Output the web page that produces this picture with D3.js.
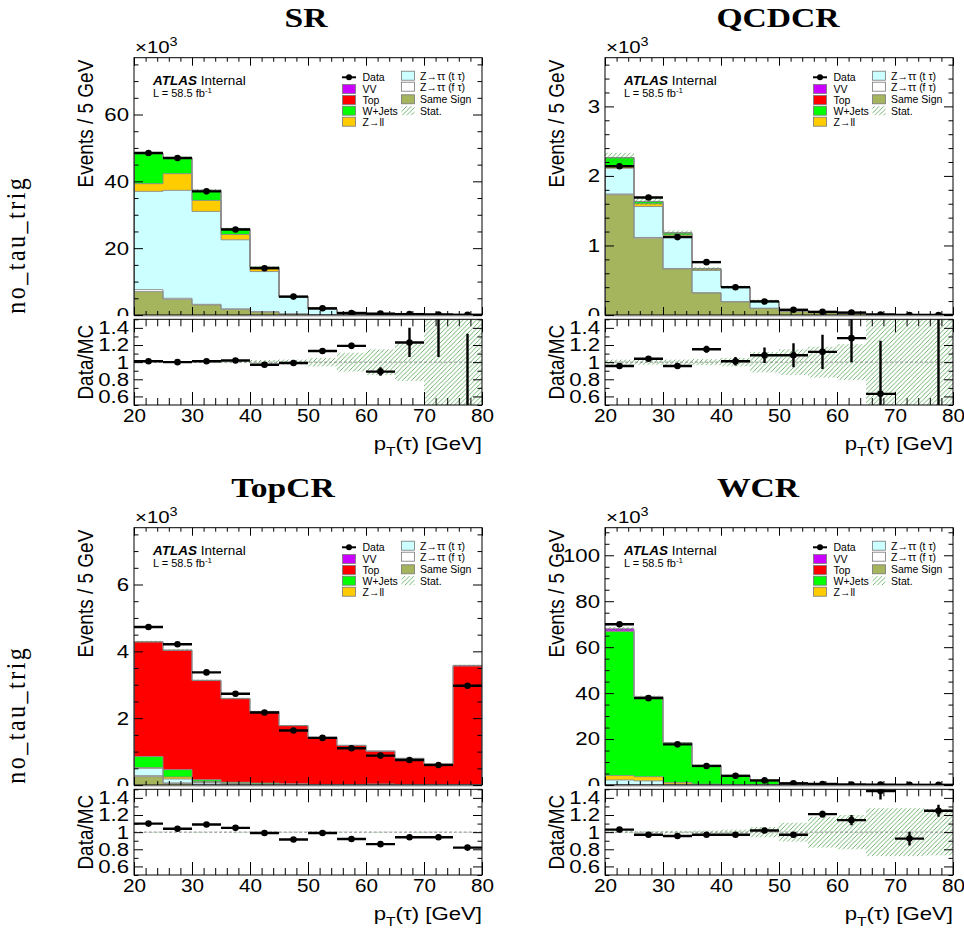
<!DOCTYPE html>
<html><head><meta charset="utf-8">
<script src="https://cdn.jsdelivr.net/npm/d3@7/dist/d3.min.js"></script>
<style>
body{margin:0;background:#fff}
</style>
</head><body>
<svg id="c" width="964" height="941" style="font-family:'Liberation Sans',Arial,Helvetica,sans-serif"></svg>
<script>
// ---------------- DATA ----------------
const binEdges = [20,25,30,35,40,45,50,55,60,65,70,75,80];
const xTickValues = [20,30,40,50,60,70,80];
const xTickLabels = ["20","30","40","50","60","70","80"];
const ratioTickValues = [0.6,0.8,1.0,1.2,1.4];
const ratioTickLabels = ["0.6","0.8","1","1.2","1.4"];
const regionNames = ["SR","QCDCR","TopCR","WCR"];
const rowLabels = ["no_tau_trig","no_tau_trig"];
const processKeys = ["ss","zttF","zttT","zll","wjets","top","vv"];
const processNames = {ss:"Same Sign",zttF:"Z\u2192\u03c4\u03c4 (f \u03c4)",zttT:"Z\u2192\u03c4\u03c4 (t \u03c4)",zll:"Z\u2192ll",wjets:"W+Jets",top:"Top",vv:"VV"};
const processColors = {ss:"#a4b55e",zttF:"#ffffff",zttT:"#ccffff",zll:"#ffcc00",wjets:"#00ff00",top:"#ff0000",vv:"#cc00ff"};

// y-axis ranges (x10^3 events)
const yMax   = [77, 3.7, 7.7, 112];
const yMajor = [20, 1, 2, 20];
const yMinor = [5, 0.2, 0.5, 5];

// SR
const SR_data   = [48.5,47.0,37.0,25.6,14.0,5.5,2.0,0.6,0.4,0.25,0.17,0.06];
const SR_ss     = [7.0,4.7,3.0,1.7,0.9,0.3,0.1,0.05,0.03,0.02,0.01,0.01];
const SR_zttF   = [0.6,0.3,0.2,0.15,0.1,0.05,0.02,0.01,0.0,0.0,0.0,0.0];
const SR_zttT   = [29.4,32.3,27.8,20.65,12.0,4.95,1.6,0.42,0.38,0.17,0.09,0.07];
const SR_zll    = [2.3,5.0,3.3,1.6,1.0,0.2,0.05,0.02,0.02,0.01,0.005,0.005];
const SR_wjets  = [9.0,4.7,3.0,1.7,0.3,0.05,0.02,0.01,0.01,0.0,0.0,0.0];
const SR_top    = [0.02,0.02,0.01,0.01,0.01,0.0,0.0,0.0,0.0,0.0,0.0,0.0];
const SR_vv     = [0.02,0.02,0.01,0.01,0.01,0.0,0.0,0.0,0.0,0.0,0.0,0.0];
const SR_ratio    = [1.01,1.0,1.01,1.02,0.97,0.99,1.13,1.19,0.89,1.23,1.7,0.45];
const SR_ratioErr = [0.006,0.006,0.007,0.008,0.01,0.015,0.025,0.035,0.05,0.17,0.64,0.88];
const SR_band     = [0.008,0.008,0.01,0.012,0.025,0.03,0.05,0.11,0.15,0.22,0.8,0.8];

// QCDCR
const QCD_data  = [2.14,1.69,1.12,0.76,0.40,0.195,0.075,0.045,0.035,0.006,0.001,0.001];
const QCD_ss    = [1.73,1.105,0.663,0.317,0.19,0.096,0.05,0.035,0.025,0.008,0.004,0.002];
const QCD_zttF  = [0.01,0.01,0.005,0.003,0.002,0.001,0.0,0.0,0.0,0.0,0.0,0.0];
const QCD_zttT  = [0.37,0.445,0.467,0.32,0.205,0.098,0.018,0.008,0.004,0.002,0.001,0.001];
const QCD_zll   = [0.02,0.04,0.015,0.02,0.003,0.002,0.001,0.001,0.001,0.0,0.0,0.0];
const QCD_wjets = [0.13,0.03,0.03,0.005,0.002,0.001,0.001,0.001,0.001,0.0,0.0,0.0];
const QCD_top   = [0.003,0.002,0.001,0.001,0.0,0.0,0.0,0.0,0.0,0.0,0.0,0.0];
const QCD_vv    = [0.001,0.001,0.0,0.0,0.0,0.0,0.0,0.0,0.0,0.0,0.0,0.0];
const QCD_ratio    = [0.955,1.04,0.955,1.15,1.01,1.08,1.08,1.12,1.28,0.63,null,1.9];
const QCD_ratioErr = [0.02,0.025,0.03,0.04,0.05,0.09,0.14,0.2,0.28,0.62,0,1.5];
const QCD_band     = [0.03,0.03,0.03,0.035,0.05,0.12,0.15,0.18,0.21,0.8,0.8,0.8];

// TopCR
const TOP_data  = [4.73,4.21,3.37,2.73,2.17,1.63,1.41,1.10,0.88,0.75,0.60,2.97];
const TOP_ss    = [0.25,0.05,0.02,0.01,0.01,0.005,0.0,0.0,0.0,0.0,0.0,0.0];
const TOP_zttF  = [0.03,0.01,0.005,0.002,0.002,0.0,0.0,0.0,0.0,0.0,0.0,0.0];
const TOP_zttT  = [0.22,0.12,0.05,0.02,0.01,0.005,0.0,0.0,0.0,0.0,0.0,0.0];
const TOP_zll   = [0.02,0.06,0.03,0.01,0.005,0.005,0.0,0.0,0.0,0.0,0.0,0.0];
const TOP_wjets = [0.33,0.22,0.05,0.04,0.03,0.02,0.01,0.01,0.03,0.01,0.01,0.01];
const TOP_top   = [3.43,3.57,2.97,2.50,2.14,1.74,1.41,1.17,0.98,0.78,0.61,3.55];
const TOP_vv    = [0.01,0.01,0.01,0.01,0.005,0.005,0.01,0.01,0.01,0.01,0.01,0.02];
const TOP_ratio    = [1.10,1.04,1.09,1.05,0.99,0.915,0.99,0.92,0.86,0.94,0.94,0.82];
const TOP_ratioErr = [0.01,0.01,0.012,0.013,0.015,0.017,0.02,0.02,0.025,0.03,0.03,0.015];
const TOP_band     = [0.006,0.006,0.006,0.006,0.006,0.006,0.006,0.006,0.006,0.006,0.006,0.005];

// WCR
const W_data  = [70.0,37.8,17.7,8.3,4.0,2.0,0.73,0.45,0.23,0.15,0.075,0.065];
const W_ss    = [0.1,0.05,0.02,0.01,0.01,0.0,0.0,0.0,0.0,0.0,0.0,0.0];
const W_zttF  = [0.1,0.05,0.02,0.01,0.0,0.0,0.0,0.0,0.0,0.0,0.0,0.0];
const W_zttT  = [2.0,1.7,0.3,0.15,0.08,0.04,0.02,0.01,0.01,0.0,0.0,0.0];
const W_zll   = [1.9,1.8,0.7,0.2,0.05,0.03,0.01,0.005,0.0,0.0,0.0,0.0];
const W_wjets = [62.7,34.5,17.2,8.1,3.9,1.8,0.7,0.35,0.17,0.1,0.08,0.05];
const W_top   = [0.2,0.1,0.05,0.03,0.02,0.01,0.005,0.0,0.0,0.0,0.0,0.0];
const W_vv    = [1.0,0.3,0.15,0.05,0.03,0.02,0.01,0.005,0.0,0.0,0.0,0.0];
const W_ratio    = [1.03,0.97,0.955,0.97,0.97,1.02,0.97,1.21,1.14,1.48,0.925,1.25];
const W_ratioErr = [0.005,0.006,0.008,0.012,0.015,0.02,0.03,0.04,0.06,0.1,0.08,0.07];
const W_band     = [0.012,0.012,0.015,0.02,0.03,0.06,0.11,0.18,0.2,0.28,0.28,0.27];

const regions = [
  {data:SR_data, comps:{ss:SR_ss,zttF:SR_zttF,zttT:SR_zttT,zll:SR_zll,wjets:SR_wjets,top:SR_top,vv:SR_vv}, ratio:SR_ratio, ratioErr:SR_ratioErr, band:SR_band},
  {data:QCD_data, comps:{ss:QCD_ss,zttF:QCD_zttF,zttT:QCD_zttT,zll:QCD_zll,wjets:QCD_wjets,top:QCD_top,vv:QCD_vv}, ratio:QCD_ratio, ratioErr:QCD_ratioErr, band:QCD_band},
  {data:TOP_data, comps:{ss:TOP_ss,zttF:TOP_zttF,zttT:TOP_zttT,zll:TOP_zll,wjets:TOP_wjets,top:TOP_top,vv:TOP_vv}, ratio:TOP_ratio, ratioErr:TOP_ratioErr, band:TOP_band},
  {data:W_data, comps:{ss:W_ss,zttF:W_zttF,zttT:W_zttT,zll:W_zll,wjets:W_wjets,top:W_top,vv:W_vv}, ratio:W_ratio, ratioErr:W_ratioErr, band:W_band}
];

// ---------------- LAYOUT ----------------
const colLeft = [134, 605];
const rowTop = [57.7, 527.7];
const frameW = 348, mainH = 257.3, ratioGap = 4.3, ratioH = 85.7;
const titleX = [306, 778, 283, 758];
const titleDY = -31;
const SX = 1.2;       // horizontal text stretch
const FS = 18.5;      // label font size
const SERIF = "'Liberation Serif','Times New Roman',serif";

const svg = d3.select("#c");
const defs = svg.append("defs");
const pat = defs.append("pattern").attr("id","hatch").attr("patternUnits","userSpaceOnUse")
  .attr("width",4.5).attr("height",4.5);
pat.append("path").attr("d","M-1,1 L1,-1 M0,4.5 L4.5,0 M3.5,5.5 L5.5,3.5")
  .attr("fill","none").attr("stroke","#3f9a3f").attr("stroke-width",0.75);

function stretchText(sel, sx){
  sel.each(function(){
    const x = +(this.getAttribute("x")||0), y = +(this.getAttribute("y")||0);
    this.setAttribute("x",0); this.setAttribute("y",0);
    this.setAttribute("transform",`translate(${x},${y}) scale(${sx},1)`);
  });
}
function ticks(g, axisGen, scale, vals, size, tx, ty, fmt, pad){
  const a = axisGen(scale).tickValues(vals).tickSize(size).tickPadding(pad||4).tickFormat(fmt || (()=>""));
  const gg = g.append("g").attr("transform",`translate(${tx},${ty})`).call(a);
  gg.attr("font-family",null).attr("font-size",null);
  gg.select(".domain").remove();
  gg.selectAll("line").attr("stroke","#000").attr("stroke-width",1);
  gg.selectAll("text").style("font-size",FS+"px").style("font-family","'Liberation Sans',Arial,sans-serif").attr("fill","#000");
  return gg;
}
function minorVals(lo, hi, step, majors){
  const out=[]; for(let v=lo; v<=hi+1e-9; v+=step){ const r=Math.round(v*1000)/1000; if(!majors.some(m=>Math.abs(m-r)<1e-6)) out.push(r);} return out;
}

regions.forEach((R, idx) => {
  const col = idx % 2, row = Math.floor(idx/2);
  const fl = colLeft[col], ft = rowTop[row];
  const fr = fl + frameW, fb = ft + mainH;
  const rt = fb + ratioGap, rb = rt + ratioH;
  const g = svg.append("g");

  const x = d3.scaleLinear().domain([binEdges[0], binEdges[binEdges.length-1]]).range([fl, fr]);
  const y = d3.scaleLinear().domain([0, yMax[idx]]).range([fb, ft]);
  const yr = d3.scaleLinear().domain([0.5, 1.5]).range([rb, rt]);

  // title
  g.append("text").attr("x",titleX[idx]).attr("y",ft+titleDY).attr("text-anchor","middle")
    .style("font-family",SERIF).style("font-weight","bold")
    .style("font-size","28px").text(regionNames[idx]).call(stretchText, SX);

  // clip
  const cid = "clipM"+idx, rid = "clipR"+idx;
  defs.append("clipPath").attr("id",cid).append("rect").attr("x",fl).attr("y",ft).attr("width",frameW).attr("height",mainH);
  defs.append("clipPath").attr("id",rid).append("rect").attr("x",fl).attr("y",rt).attr("width",frameW).attr("height",ratioH);
  // label clip in the local (translated) coordinates of the left-axis group
  defs.append("clipPath").attr("id","clipL"+idx).append("rect").attr("x",-60).attr("y",ft-20).attr("width",72).attr("height",mainH+21);

  // stack
  const table = binEdges.slice(0,-1).map((lo,i)=>{ const o={lo:lo, hi:binEdges[i+1]}; processKeys.forEach(k=>o[k]=R.comps[k][i]); return o; });
  const series = d3.stack().keys(processKeys)(table);
  const mg = g.append("g").attr("clip-path",`url(#${cid})`);
  const area = d3.area().x(d=>x(d.x)).y0(d=>y(d.y0)).y1(d=>y(d.y1)).curve(d3.curveStepAfter);
  const line = d3.line().x(d=>x(d.x)).y(d=>y(d.y)).curve(d3.curveStepAfter);
  series.forEach(s=>{
    const pts = s.map(d=>({x:d.data.lo, y0:d[0], y1:d[1]}));
    pts.push({x:d3.max(binEdges), y0:s[s.length-1][0], y1:s[s.length-1][1]});
    mg.append("path").attr("d",area(pts)).attr("fill",processColors[s.key]);
  });
  series.forEach(s=>{
    const pts = [{x:binEdges[0], y:0}].concat(s.map(d=>({x:d.data.lo, y:d[1]})));
    pts.push({x:d3.max(binEdges), y:s[s.length-1][1]});
    pts.push({x:d3.max(binEdges), y:0});
    mg.append("path").attr("d",line(pts)).attr("fill","none").attr("stroke","#8a8a8a").attr("stroke-width",0.9);
  });
  // stat band on main
  const totals = table.map(d=>processKeys.reduce((a,k)=>a+d[k],0));
  mg.selectAll("rect.band").data(table).join("rect")
    .attr("x",d=>x(d.lo)).attr("width",d=>x(d.hi)-x(d.lo))
    .attr("y",(d,i)=>y(totals[i]*(1+R.band[i]))).attr("height",(d,i)=>Math.max(0.5,y(totals[i]*(1-R.band[i]))-y(totals[i]*(1+R.band[i]))))
    .attr("fill","url(#hatch)");
  // data
  mg.selectAll("line.dx").data(table).join("line")
    .attr("x1",d=>x(d.lo)).attr("x2",d=>x(d.hi)).attr("y1",(d,i)=>y(R.data[i])).attr("y2",(d,i)=>y(R.data[i]))
    .attr("stroke","#000").attr("stroke-width",2.4);
  mg.selectAll("circle.dp").data(table).join("circle")
    .attr("cx",d=>x((d.lo+d.hi)/2)).attr("cy",(d,i)=>y(R.data[i])).attr("r",3.3).attr("fill","#000");

  // main frame & ticks
  const yMaj = d3.range(0, yMax[idx]+1e-9, yMajor[idx]).map(v=>Math.round(v*1000)/1000);
  const yMin = minorVals(0, yMax[idx], yMinor[idx], yMaj);
  const xMin = minorVals(20, 80, 2, xTickValues);
  const yl = ticks(g, d3.axisLeft, y, yMaj, -9, fl, 0, d3.format("~g"), 5);
  yl.attr("clip-path",`url(#clipL${idx})`);
  stretchText(yl.selectAll("text"), SX);
  ticks(g, d3.axisLeft, y, yMin, -4.5, fl, 0);
  ticks(g, d3.axisRight, y, yMaj, -9, fr, 0);
  ticks(g, d3.axisRight, y, yMin, -4.5, fr, 0);
  ticks(g, d3.axisTop, x, xTickValues, -8, 0, ft);
  ticks(g, d3.axisTop, x, xMin, -4, 0, ft);
  ticks(g, d3.axisBottom, x, xTickValues, -8, 0, fb);
  ticks(g, d3.axisBottom, x, xMin, -4, 0, fb);
  g.append("rect").attr("x",fl).attr("y",ft).attr("width",frameW).attr("height",mainH).attr("fill","none").attr("stroke","#000").attr("stroke-width",1);

  // x10^3
  const t3 = g.append("text").attr("x",fl+1).attr("y",ft-5).style("font-size","17px");
  t3.append("tspan").text("\u00d710");
  t3.append("tspan").style("font-size","12px").attr("dy",-7).text("3");
  stretchText(t3, SX);

  // y title
  g.append("text").attr("transform",`translate(${fl-41},${ft+2}) scale(${SX},1) rotate(-90)`)
    .attr("text-anchor","end").style("font-size","19px").text("Events / 5 GeV");

  // ATLAS label
  const at = g.append("text").attr("x",fl+19).attr("y",ft+27.5).style("font-size","13.5px");
  at.append("tspan").style("font-weight","bold").style("font-style","italic").text("ATLAS");
  at.append("tspan").text(" Internal");
  const lum = g.append("text").attr("x",fl+19).attr("y",ft+39.6).style("font-size","11px");
  lum.append("tspan").text("L = 58.5 fb");
  lum.append("tspan").style("font-size","8px").attr("dy",-4).text("-1");

  // legend
  const leg1 = ["data","vv","top","wjets","zll"];
  const leg1Y = [19.6,31.3,42.3,53,64];
  const leg2 = ["zttT","zttF","ss","stat"];
  const leg2Y = [18,29,41.6,53];
  const LFS = "10.5px";
  leg1.forEach((k,i)=>{
    const cy = ft+leg1Y[i];
    if(k==="data"){
      g.append("line").attr("x1",fl+208).attr("x2",fl+222).attr("y1",cy).attr("y2",cy).attr("stroke","#000").attr("stroke-width",2);
      g.append("circle").attr("cx",fl+215).attr("cy",cy).attr("r",3).attr("fill","#000");
    } else {
      g.append("rect").attr("x",fl+208.5).attr("y",cy-4.5).attr("width",13).attr("height",9).attr("fill",processColors[k]).attr("stroke","#777").attr("stroke-width",0.8);
    }
    g.append("text").attr("x",fl+228.5).attr("y",cy+3.8).style("font-size",LFS).text(k==="data"?"Data":processNames[k]);
  });
  leg2.forEach((k,i)=>{
    const cy = ft+leg2Y[i];
    if(k==="stat"){
      g.append("rect").attr("x",fl+267.5).attr("y",cy-4.5).attr("width",13).attr("height",9).attr("fill","url(#hatch)");
    } else {
      g.append("rect").attr("x",fl+267.5).attr("y",cy-4.5).attr("width",13).attr("height",9).attr("fill",processColors[k]).attr("stroke","#777").attr("stroke-width",0.8);
    }
    g.append("text").attr("x",fl+286).attr("y",cy+3.8).style("font-size",LFS).text(k==="stat"?"Stat.":processNames[k]);
  });

  // ---------- ratio pad ----------
  g.append("line").attr("x1",fl).attr("x2",fr).attr("y1",fb+1.6).attr("y2",fb+1.6).attr("stroke","#cfcfcf").attr("stroke-width",1);
  const rg = g.append("g").attr("clip-path",`url(#${rid})`);
  rg.selectAll("rect").data(table).join("rect")
    .attr("x",d=>x(d.lo)).attr("width",d=>x(d.hi)-x(d.lo))
    .attr("y",(d,i)=>yr(1+R.band[i])).attr("height",(d,i)=>yr(1-R.band[i])-yr(1+R.band[i]))
    .attr("fill","url(#hatch)");
  rg.append("line").attr("x1",fl).attr("x2",fr).attr("y1",yr(1)).attr("y2",yr(1))
    .attr("stroke","#777").attr("stroke-width",0.8).attr("stroke-dasharray","3,2");
  const rdat = table.map((d,i)=>({lo:d.lo, hi:d.hi, r:R.ratio[i], e:R.ratioErr[i]})).filter(d=>d.r!==null);
  rg.selectAll("line.rh").data(rdat).join("line").attr("class","rh")
    .attr("x1",d=>x(d.lo)).attr("x2",d=>x(d.hi)).attr("y1",d=>yr(d.r)).attr("y2",d=>yr(d.r))
    .attr("stroke","#000").attr("stroke-width",2.4);
  rg.selectAll("line.rv").data(rdat).join("line").attr("class","rv")
    .attr("x1",d=>x((d.lo+d.hi)/2)).attr("x2",d=>x((d.lo+d.hi)/2)).attr("y1",d=>yr(d.r-d.e)).attr("y2",d=>yr(d.r+d.e))
    .attr("stroke","#000").attr("stroke-width",2.4);
  rg.selectAll("circle").data(rdat).join("circle")
    .attr("cx",d=>x((d.lo+d.hi)/2)).attr("cy",d=>yr(d.r)).attr("r",3.3).attr("fill","#000");

  const rMin = [0.5,0.7,0.9,1.1,1.3,1.5];
  const ryl = ticks(g, d3.axisLeft, yr, ratioTickValues, -9, fl, 0, (v,i)=>ratioTickLabels[i], 5);
  stretchText(ryl.selectAll("text"), SX);
  ticks(g, d3.axisLeft, yr, rMin, -4.5, fl, 0);
  ticks(g, d3.axisRight, yr, ratioTickValues, -9, fr, 0);
  ticks(g, d3.axisRight, yr, rMin, -4.5, fr, 0);
  ticks(g, d3.axisTop, x, xTickValues, -13, 0, rt);
  ticks(g, d3.axisTop, x, xMin, -7, 0, rt);
  const xl = ticks(g, d3.axisBottom, x, xTickValues, -13, 0, rb, (v,i)=>xTickLabels[i], 4);
  xl.selectAll("text").style("font-size","18px");
  stretchText(xl.selectAll("text"), 1.15);
  ticks(g, d3.axisBottom, x, xMin, -7, 0, rb);
  g.append("rect").attr("x",fl).attr("y",rt).attr("width",frameW).attr("height",ratioH).attr("fill","none").attr("stroke","#000").attr("stroke-width",1);

  g.append("text").attr("transform",`translate(${fl-41},${(rt+rb)/2}) scale(${SX},1) rotate(-90)`)
    .attr("text-anchor","middle").style("font-size","19px").text("Data/MC");

  // x title
  const xt = g.append("text").attr("x",fr).attr("y",rb+45).attr("text-anchor","end").style("font-size","18.5px");
  xt.append("tspan").text("p");
  xt.append("tspan").style("font-size","13px").attr("dy",6).text("T");
  xt.append("tspan").attr("dy",-6).text("(\u03c4) [GeV]");
  stretchText(xt, SX);

  // row label
  if(col===0){
    svg.append("text").attr("transform",`translate(25,${ft+187}) scale(1.1,1) rotate(-90)`)
      .attr("text-anchor","middle").style("font-family",SERIF)
      .style("font-size","24px").style("letter-spacing","2.5px").text(rowLabels[row]);
  }
});
</script>
</body></html>
